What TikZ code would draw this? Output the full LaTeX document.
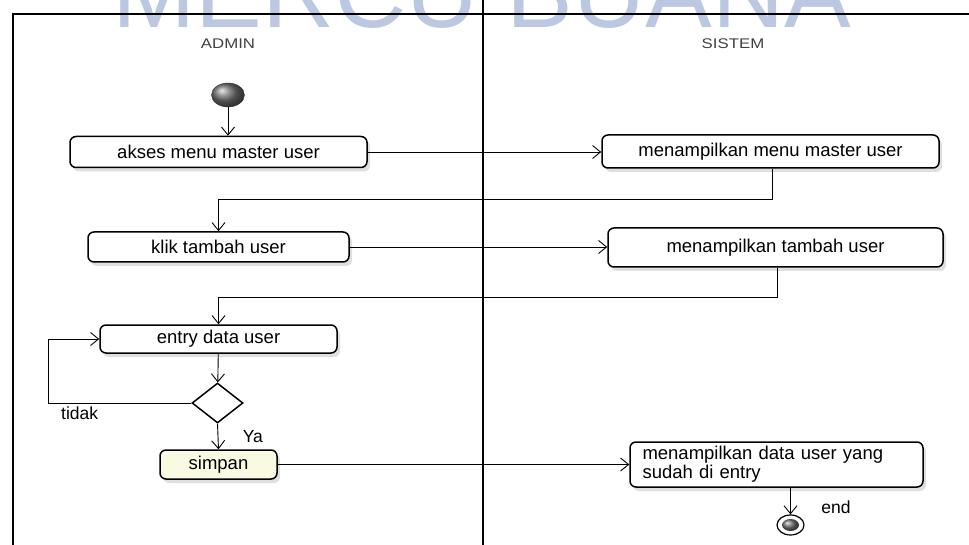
\documentclass[tikz,border=0pt]{standalone}
\usepackage{fontspec}
\setmainfont{Liberation Sans}
\newfontfamily\lanefont{Liberation Sans}[FakeStretch=1.2]
\usepackage{tikz}
\usetikzlibrary{arrows.meta,calc,positioning,shadows,shapes.geometric}
\definecolor{wmblue}{RGB}{188,199,225}
\definecolor{simpanfill}{RGB}{250,250,226}
\tikzset{%
	act/.style    = {draw, rounded corners=6pt, line width=1.5pt, fill=white, inner sep=2pt, font=\fontsize{18.5}{19}\selectfont, drop shadow={shadow xshift=3pt, shadow yshift=-4pt, fill=black!25}}, % Activity
	decide/.style = {draw, diamond, line width=1.5pt, fill=white, inner sep=0pt, minimum width=51pt, minimum height=40pt}, % Decision
	lane/.style   = {font=\lanefont\fontsize{14}{16}\selectfont, text=black!75}, % Swimlane title
	lbl/.style    = {font=\fontsize{17.5}{19}\selectfont}, % Guard
	flow/.style   = {-{Straight Barb[length=8pt,width=13pt]}, line width=0.9pt}, % Control flow
}
\begin{document}
\begin{tikzpicture}[x=1pt, y=-1pt, node distance=14pt]
		\useasboundingbox (0,0) rectangle (969,545);
		% watermark
		\node[anchor=base, inner sep=0pt, text depth=0pt, text=wmblue, font=\fontsize{100}{100}\selectfont] (wm) at (482,28) {MERCU BUANA};
		% swimlanes
		\draw[line width=1.1pt] (13,545) -- (13,14) -- (969,14);
		\draw[line width=1.1pt] (483,0) -- (483,545);
		\node[lane] (admin) at (228,44) {ADMIN};
		\node[lane] (sistem) at (733,44) {SISTEM};
		% activities
		\node[ellipse, draw=black!80, ball color=black!55, minimum width=33pt, minimum height=24pt, inner sep=0pt] (start) at (228,95) {};
		\node[act, minimum width=297pt, minimum height=31pt] (akses) at (218.5,152) {akses menu master user};
		\node[act, minimum width=337pt, minimum height=33pt] (tampil1) at (770.5,151.5) {menampilkan menu master user};
		\node[act, minimum width=261pt, minimum height=30pt] (klik) at (218.5,247) {klik tambah user};
		\node[act, minimum width=335pt, minimum height=39pt] (tampil2) at (775.5,247.5) {menampilkan tambah user};
		\node[act, minimum width=237pt, minimum height=28pt] (entry) at (218.5,339) {entry data user};
		\node[decide] (cek) at (217.5,403) {};
		\node[act, fill=simpanfill, minimum width=117pt, minimum height=29pt] (simpan) at (218.5,464.5) {simpan};
		\node[act, minimum width=293pt, minimum height=45pt, text width=268pt, align=left] (tampil3) at (776.5,464.5) {menampilkan data user yang\\sudah di entry};
		\node[ellipse, draw, line width=1.2pt, fill=white, minimum width=27pt, minimum height=20pt, inner sep=0pt] (stop) at (790.5,525) {};
		\node[ellipse, ball color=black!55, minimum width=17pt, minimum height=12pt, inner sep=0pt] (stopdot) at (stop) {};
		\node[lbl] (endlbl) at (836,507) {end};
		% flows
		\draw[flow] (start) -- (start |- akses.north);
		\draw[flow] (akses.east) -- (akses.east -| tampil1.west);
		\draw[flow] ([xshift=1.5pt]tampil1.south) -- ++(0,31) -| (klik.north);
		\draw[flow] (klik.east) -- (klik.east -| tampil2.west);
		\draw[flow] ([xshift=1.5pt]tampil2.south) -- ++(0,30) -| (entry.north);
		\draw[flow] (entry) -- (cek);
		\draw[flow] (cek.west) -- node[lbl, below, pos=0.78] (tidak) {tidak} ++(-143,0) |- (entry.west);
		\draw[flow] (cek.south) -- node[lbl, right=21pt] (ya) {Ya} (simpan.north);
		\draw[flow] (simpan.east) -- (simpan.east -| tampil3.west);
		\draw[flow] (stop |- tampil3.south) -- (stop.north);
\end{tikzpicture}
\end{document}
